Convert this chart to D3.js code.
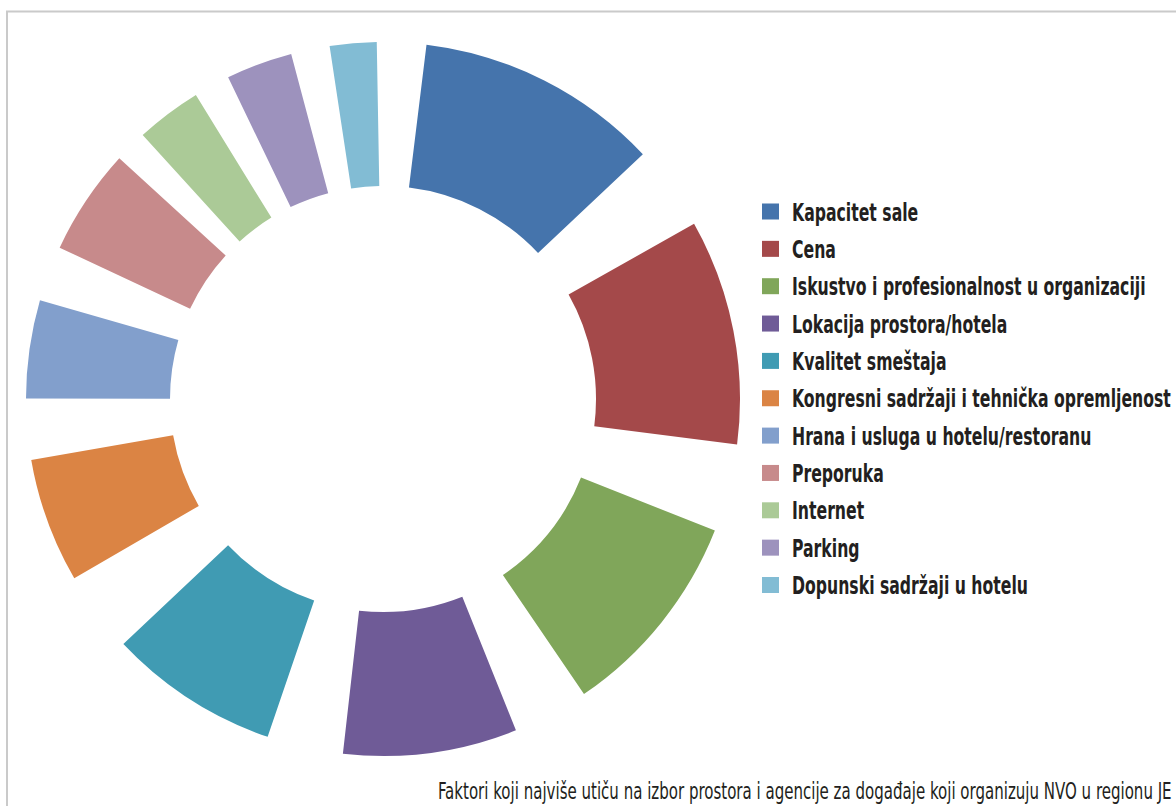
<!DOCTYPE html>
<html>
<head>
<meta charset="utf-8">
<script src="https://cdn.jsdelivr.net/npm/d3@7/dist/d3.min.js"></script>
<style>
  html, body { margin: 0; padding: 0; background: #fff; }
  svg { display: block; }
</style>
</head>
<body>
<svg id="chart" width="1176" height="806"></svg>
<script>
// ---- data ----
const categories = [
  "Kapacitet sale",
  "Cena",
  "Iskustvo i profesionalnost u organizaciji",
  "Lokacija prostora/hotela",
  "Kvalitet smeštaja",
  "Kongresni sadržaji i tehnička opremljenost",
  "Hrana i usluga u hotelu/restoranu",
  "Preporuka",
  "Internet",
  "Parking",
  "Dopunski sadržaji u hotelu"
];
const values = [39.7, 36.7, 34.1, 28.3, 27.8, 20.3, 16.0, 17.3, 10.7, 10.8, 7.6];
// blank spacer segments following each slice
const spacers = [13.9, 14.3, 12.4, 12.4, 13.2, 9.9, 9.0, 5.3, 5.9, 6.3, 8.0];
const colors = ["#4574ac", "#a4494a", "#80a65a", "#6f5b97", "#409bb3",
                "#db8444", "#829fcc", "#c78a8b", "#abca97", "#9d92bd", "#82bcd4"];
const caption = "Faktori koji najviše utiču na izbor prostora i agencije za događaje koji organizuju NVO u regionu JE";

// ---- drawing ----
const svg = d3.select("#chart");

// frame
svg.append("path")
  .attr("d", "M7,806 V11.5 H1176")
  .attr("fill", "none")
  .attr("stroke", "#cacaca")
  .attr("stroke-width", 2);

const cx = 383, cy = 399, rOuter = 357, rInner = 213;
const startDeg = 7.0;

const segs = [];
values.forEach((v, i) => {
  segs.push({ kind: "slice", i, v });
  segs.push({ kind: "gap", i, v: spacers[i] });
});

const pie = d3.pie()
  .sort(null)
  .value(d => d.v)
  .startAngle(startDeg * Math.PI / 180)
  .endAngle((startDeg + 360) * Math.PI / 180);

const arc = d3.arc().innerRadius(rInner).outerRadius(rOuter);
const color = d3.scaleOrdinal().domain(categories).range(colors);

const g = svg.append("g").attr("transform", `translate(${cx},${cy})`);
g.selectAll("path")
  .data(pie(segs).filter(d => d.data.kind === "slice"))
  .join("path")
  .attr("d", arc)
  .attr("fill", d => color(categories[d.data.i]));

// legend
const legX = 762, legY0 = 212, legStep = 37.35, sq = 17;
const leg = svg.append("g");
const items = leg.selectAll("g")
  .data(categories)
  .join("g")
  .attr("transform", (d, i) => `translate(${legX},${legY0 + i * legStep})`);
items.append("rect")
  .attr("x", 0).attr("y", -sq / 2)
  .attr("width", sq).attr("height", sq - 1)
  .attr("fill", d => color(d));
const texts = items.append("text")
  .attr("x", 0).attr("y", 8.5)
  .attr("font-family", "'Liberation Sans Narrow', 'DejaVu Sans Condensed', sans-serif")
  .attr("font-weight", "bold")
  .attr("font-size", 24)
  .attr("fill", "#231f20")
  .text(d => d);
// condense text horizontally to match the reference's condensed face
let maxW = 0;
texts.each(function () { maxW = Math.max(maxW, this.getComputedTextLength()); });
const kx = 379 / maxW;
texts.attr("transform", `translate(30,0) scale(${kx},1)`);

// caption
const cap = svg.append("text")
  .attr("x", 0).attr("y", 0)
  .attr("font-family", "'Liberation Sans Narrow', 'DejaVu Sans Condensed', sans-serif")
  .attr("font-size", 23)
  .attr("fill", "#231f20")
  .text(caption);
const cw = cap.node().getComputedTextLength();
const ck = 734 / cw;
cap.attr("transform", `translate(438,799) scale(${ck},1)`);
</script>
</body>
</html>
